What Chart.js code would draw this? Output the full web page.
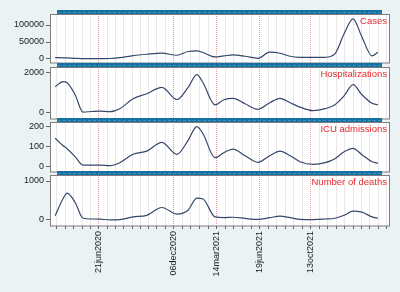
<!DOCTYPE html>
<html>
<head>
<meta charset="utf-8">
<script src="https://cdn.jsdelivr.net/npm/chart.js@4.4.0/dist/chart.umd.min.js"></script>
<style>
html, body { margin: 0; padding: 0; background: #eaf2f3; }
#wrap { position: relative; width: 400px; height: 292px; }
canvas { position: absolute; left: 0; top: 0; }
</style>
</head>
<body>
<div id="wrap">
  <canvas id="c0" width="400" height="292"></canvas>
  <canvas id="c1" width="400" height="292"></canvas>
  <canvas id="c2" width="400" height="292"></canvas>
  <canvas id="c3" width="400" height="292"></canvas>
</div>
<script>
// data
var dates = ['2020-03-14','2020-04-01','2020-04-10','2020-04-28','2020-05-16','2020-06-05','2020-06-23',
  '2020-07-16','2020-08-07','2020-09-06','2020-10-07','2020-11-10','2020-12-14','2021-01-08','2021-01-28',
  '2021-02-11','2021-03-10','2021-03-30','2021-04-20','2021-05-17','2021-06-15','2021-07-12','2021-08-04',
  '2021-08-27','2021-09-18','2021-10-18','2021-11-14','2021-12-06','2021-12-27','2022-01-16','2022-02-05',
  '2022-02-28','2022-03-13'];
var cases = [4000,3500,3000,2000,1000,800,1000,1500,4000,10000,14000,17000,11000,22000,24000,19000,6000,
  9000,12000,8000,2000,20000,17000,8000,5000,4500,5000,15000,75000,118000,65000,9000,20000];
var hospitalizations = [1300,1550,1500,900,30,60,80,50,200,700,950,1270,660,1250,1900,1500,390,650,720,
  450,170,500,720,500,280,100,200,400,850,1400,900,470,400];
var icu = [142,105,90,50,8,8,8,5,20,62,78,122,62,130,200,165,45,70,88,55,22,55,78,55,25,12,20,40,75,92,
  60,25,17];
var deaths = [110,550,690,450,45,25,20,5,10,80,120,320,150,250,560,540,80,60,70,40,15,60,100,60,15,10,25,
  45,120,230,200,80,45];

var tickDates = ['2020-06-21','2020-12-06','2021-03-14','2021-06-19','2021-10-13'];
var tickLabels = ['21jun2020','06dec2020','14mar2021','19jun2021','13oct2021'];
var casesTicks = [0, 50000, 100000];
var hospTicks = [0, 2000];
var icuTicks = [0, 100, 200];
var deathTicks = [0, 1000];

var FONT = '"Liberation Sans", Arial, sans-serif';

function dayNum(s) { return Date.parse(s + 'T00:00:00Z') / 86400000; }

var majors = tickDates.map(dayNum);
var xMin = majors[0] - 110.7;
var xMax = majors[0] + 657.5;

// minor grid positions, about every 19 days between the labelled dates
function minorDays() {
  var out = [], step = 19, v;
  for (v = majors[0] - step; v > xMin + 2; v -= step) out.push(v);
  for (var i = 0; i < majors.length - 1; i++) {
    var span = majors[i + 1] - majors[i];
    var n = Math.round(span / step);
    for (var k = 1; k < n; k++) out.push(majors[i] + k * span / n);
  }
  for (v = majors[majors.length - 1] + step; v < xMax - 2; v += step) out.push(v);
  return out;
}
var allTicks = minorDays().concat(majors).sort(function (a, b) { return a - b; });

function majorIndex(v) {
  for (var i = 0; i < majors.length; i++) if (Math.abs(majors[i] - v) < 0.01) return i;
  return -1;
}

var panelDeco = {
  id: 'panelDeco',
  beforeDraw: function (chart) {
    var a = chart.chartArea, ctx = chart.ctx;
    ctx.save();
    ctx.fillStyle = '#ffffff';
    ctx.fillRect(a.left, a.top, a.right - a.left, a.bottom - a.top);
    ctx.restore();
  },
  afterDraw: function (chart) {
    var a = chart.chartArea, ctx = chart.ctx, o = chart.options.plugins.panelDeco;
    ctx.save();
    ctx.strokeStyle = '#7d7d7d';
    ctx.lineWidth = 1;
    ctx.strokeRect(a.left + 0.5, a.top + 0.5, a.right - a.left - 1, a.bottom - a.top - 0.5);
    // blue strip on top of each panel
    ctx.fillStyle = '#1671a3';
    ctx.fillRect(a.left + 7, a.top - 4, a.right - a.left - 15, 4);
    ctx.strokeStyle = '#3f8fbd';
    ctx.setLineDash([3, 2]);
    ctx.beginPath();
    ctx.moveTo(a.left + 8, a.top - 1.5);
    ctx.lineTo(a.right - 9, a.top - 1.5);
    ctx.stroke();
    ctx.setLineDash([]);
    ctx.fillStyle = '#e8282e';
    ctx.font = '9.5px ' + FONT;
    ctx.textAlign = 'right';
    ctx.textBaseline = 'top';
    ctx.fillText(o.title, a.right - 3, a.top + 3);
    ctx.restore();
  }
};

var panels = [
  { id: 'c0', title: 'Cases', values: cases, ticks: casesTicks, min: -11800, max: 132400, top: 14, bottom: 63 },
  { id: 'c1', title: 'Hospitalizations', values: hospitalizations, ticks: hospTicks, min: -315, max: 2285, top: 67, bottom: 119 },
  { id: 'c2', title: 'ICU admissions', values: icu, ticks: icuTicks, min: -26.5, max: 223.5, top: 122, bottom: 172 },
  { id: 'c3', title: 'Number of deaths', values: deaths, ticks: deathTicks, min: -154, max: 1154, top: 175, bottom: 226 }
];

panels.forEach(function (p, idx) {
  var last = idx === panels.length - 1;
  new Chart(document.getElementById(p.id), {
    type: 'line',
    data: {
      datasets: [{
        data: dates.map(function (d, i) { return { x: dayNum(d), y: p.values[i] }; }),
        borderColor: '#34476a',
        borderWidth: 1.2,
        pointRadius: 0,
        cubicInterpolationMode: 'monotone',
        fill: false
      }]
    },
    options: {
      responsive: false,
      animation: false,
      events: [],
      layout: { padding: { left: 0, right: 10, top: p.top, bottom: last ? 0 : 292 - p.bottom } },
      plugins: { legend: { display: false }, tooltip: { enabled: false }, panelDeco: { title: p.title } },
      scales: {
        x: {
          type: 'linear', min: xMin, max: xMax,
          afterBuildTicks: function (s) { s.ticks = allTicks.map(function (v) { return { value: v }; }); },
          afterFit: function (s) { s.height = last ? 66 : 0; },
          grid: {
            color: function (c) { return c.tick && majorIndex(c.tick.value) >= 0 ? 'rgba(0,0,0,0)' : '#ebe6e8'; },
            drawTicks: last, tickLength: 3, tickColor: '#666'
          },
          border: { display: false },
          ticks: {
            display: last, autoSkip: false, minRotation: 90, maxRotation: 90, padding: 2,
            color: '#222', font: { size: 9, family: FONT },
            callback: function (v) { var i = majorIndex(v); return i >= 0 ? tickLabels[i] : ''; }
          }
        },
        xm: {
          type: 'linear', position: 'bottom', min: xMin, max: xMax,
          afterBuildTicks: function (s) { s.ticks = majors.map(function (v) { return { value: v }; }); },
          afterFit: function (s) { s.height = 0; },
          grid: { color: '#e99aa4', drawTicks: false },
          border: { display: false, dash: [1, 1] },
          ticks: { display: false }
        },
        y: {
          min: p.min, max: p.max,
          afterBuildTicks: function (s) { s.ticks = p.ticks.map(function (v) { return { value: v }; }); },
          afterFit: function (s) { s.width = 50; },
          grid: { drawOnChartArea: false, tickLength: 4, tickColor: '#666' },
          border: { display: false },
          ticks: {
            padding: 2, color: '#222', font: { size: 9, family: FONT },
            callback: function (v) { return String(v); }
          }
        }
      }
    },
    plugins: [panelDeco]
  });
});
</script>
</body>
</html>
